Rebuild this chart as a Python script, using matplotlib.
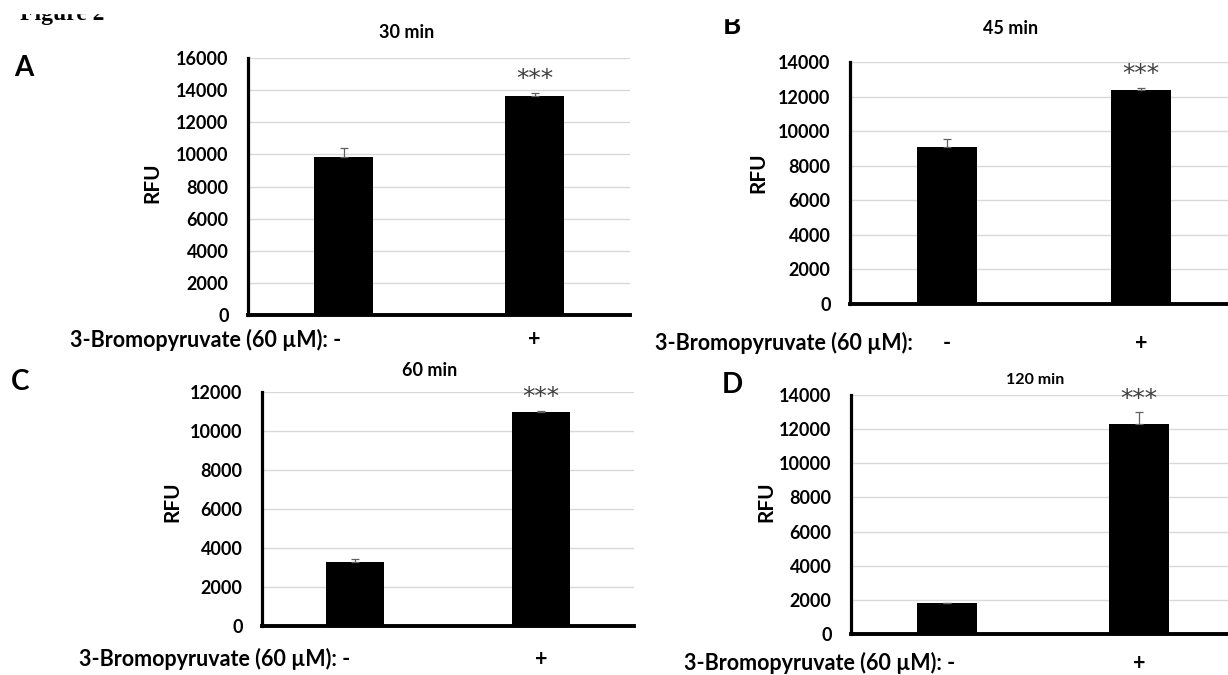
import numpy as np
import matplotlib
matplotlib.use("Agg")
import matplotlib.pyplot as plt
import matplotlib.transforms as mtransforms
from matplotlib.patches import Rectangle

plt.rcParams['font.family'] = ['Lato', 'DejaVu Sans']

W, H = 1228, 675

# data (RFU, mean and upper error)
treatment = ["-", "+"]
titles = ["30 min", "45 min", "60 min", "120 min"]
letters = ["A", "B", "C", "D"]
rfu_30 = [9850, 13650]
err_30 = [530, 150]
rfu_45 = [9070, 12400]
err_45 = [500, 80]
rfu_60 = [3300, 11000]
err_60 = [120, 30]
rfu_120 = [1800, 12300]
err_120 = [40, 680]
y_max = [16000, 14000, 12000, 14000]
label_txt = "3-Bromopyruvate (60 µM):"


def fx(x):
    return x / W


def fy(y):
    return 1 - y / H


fig = plt.figure(figsize=(W / 100, H / 100), dpi=100)
fig.patch.set_facecolor("white")

# axes boxes in pixels: left, top, right, bottom
boxes = [(248, 58, 630, 315), (850, 62, 1238, 304),
         (262, 392, 634, 626), (851, 395, 1235, 634)]
vals = [rfu_30, rfu_45, rfu_60, rfu_120]
errs = [err_30, err_45, err_60, err_120]

axes = []
for i in range(4):
    l, t, r, b = boxes[i]
    ax = fig.add_axes([fx(l), fy(b), (r - l) / W, (b - t) / H])
    x = np.arange(len(treatment))
    ax.bar(x, vals[i], width=0.313, color="black", zorder=2)
    ax.errorbar(x, vals[i], yerr=[np.zeros(2), errs[i]], fmt="none",
                ecolor="#606060", elinewidth=0.9, capsize=3, capthick=0.9, zorder=3)
    ax.set_xlim(-0.5, 1.5)
    ax.set_ylim(0, y_max[i])
    ax.set_yticks(np.arange(0, y_max[i] + 1, 2000))
    ax.set_xticks([])
    ax.grid(axis="y", color="#d9d9d9", linewidth=1)
    ax.set_axisbelow(True)
    for s in ["top", "right"]:
        ax.spines[s].set_visible(False)
    ax.spines["left"].set_linewidth(2.3)
    ax.spines["bottom"].set_linewidth(2.8)
    ax.spines["left"].set_zorder(4)
    ax.spines["bottom"].set_zorder(4)
    ax.tick_params(axis="y", length=0, pad=14, labelsize=13)
    for lab in ax.get_yticklabels():
        lab.set_fontweight("bold")
    # significance stars over the treated bar
    ax.annotate("***", (1, vals[i][1] + errs[i][1]), xytext=(0, 10),
                textcoords="offset points", ha="center", va="center",
                fontsize=18, color="#404040", family="DejaVu Sans")
    axes.append(ax)

# titles
title_pos = [(407, 32, 13), (1011, 28, 13), (430, 371, 13), (1035, 380, 11.5)]
for i in range(4):
    x, y, s = title_pos[i]
    fig.text(fx(x), fy(y), titles[i], ha="center", va="center",
             fontsize=s, fontweight="bold")

# panel letters
letter_pos = [(24, 68), (732, 26), (20, 382), (732, 385)]
for i in range(4):
    x, y = letter_pos[i]
    fig.text(fx(x), fy(y), letters[i], ha="center", va="center",
             fontsize=20, fontweight="bold")

# RFU axis labels
rfu_pos = [(152, 183), (758, 173), (172, 502), (766, 502)]
for x, y in rfu_pos:
    fig.text(fx(x), fy(y), "RFU", ha="center", va="center", rotation=90,
             fontsize=15, fontweight="bold")

# treatment rows under each panel
row_pos = [(70, 340), (655, 343), (79, 659), (684, 663)]
for i in range(4):
    x, y = row_pos[i]
    ax = axes[i]
    trans = mtransforms.blended_transform_factory(ax.transData, fig.transFigure)
    if i == 1:
        fig.text(fx(x), fy(y), label_txt, ha="left", va="center",
                 fontsize=15.5, fontweight="bold")
        ax.text(0, fy(y), treatment[0], transform=trans, ha="center",
                va="center", fontsize=15.5, fontweight="bold", clip_on=False)
    else:
        fig.text(fx(x), fy(y), label_txt + " " + treatment[0], ha="left",
                 va="center", fontsize=15.5, fontweight="bold")
    ax.text(1, fy(y), treatment[1], transform=trans, ha="center",
            va="center", fontsize=15.5, fontweight="bold", clip_on=False)

# clipped "Figure 2" heading at the very top
fig.text(fx(20), fy(20), "Figure 2", ha="left", va="baseline",
         fontsize=17, fontweight="bold", family="Liberation Serif")
fig.patches.append(Rectangle((0, fy(13)), fx(130), 13 / H,
                             transform=fig.transFigure, color="white", zorder=10))
fig.patches.append(Rectangle((fx(700), fy(18)), fx(60), 18 / H,
                             transform=fig.transFigure, color="white", zorder=10))

fig.savefig("out.png", dpi=100, facecolor="white")
